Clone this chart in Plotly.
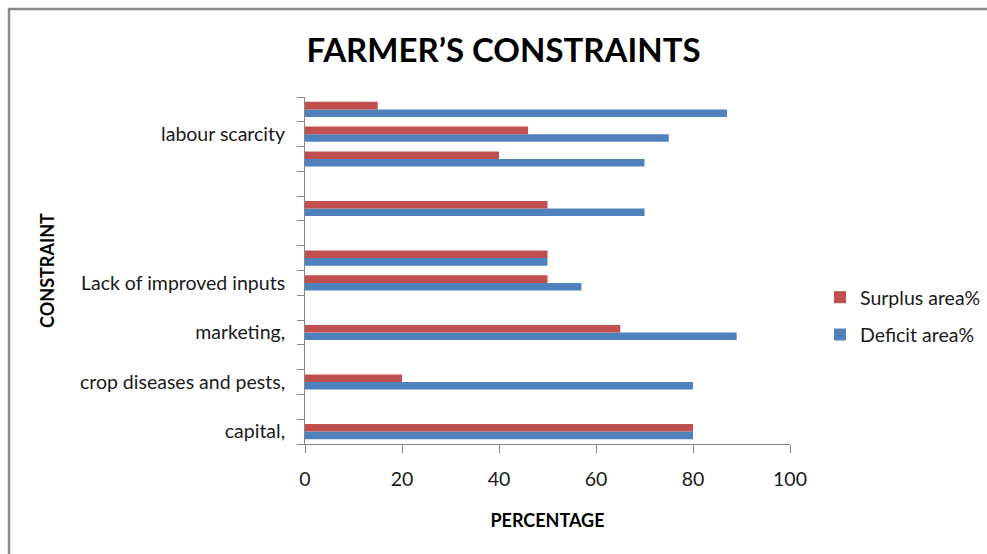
import plotly.graph_objects as go

# Constraint categories, bottom to top (blank rows keep their slot on the axis)
constraints = [
    "capital,", "", "crop diseases and pests,", "", "marketing,", "",
    "Lack of improved inputs", "", "", "", "", "", "labour scarcity", "",
]
surplus_pct = [80, None, 20, None, 65, None, 50, 50, None, 50, None, 40, 46, 15]
deficit_pct = [80, None, 80, None, 89, None, 57, 50, None, 70, None, 70, 75, 87]
x_ticks = [0, 20, 40, 60, 80, 100]

# unique category keys so that blank labels still get their own row
keys = [f"row{i}" for i in range(len(constraints))]

FONT = "Lato, 'Open Sans', sans-serif"
RED = "#C0504D"
BLUE = "#4F81BD"
AXIS = "#868686"
TXT = "#1a1a1a"

fig = go.Figure()
fig.add_trace(go.Bar(
    y=keys, x=deficit_pct, orientation="h", name="Deficit area%",
    marker=dict(color=BLUE, line=dict(width=0)),
    legendgroup="g2_deficit", legendrank=2,
))
fig.add_trace(go.Bar(
    y=keys, x=surplus_pct, orientation="h", name="Surplus area%",
    marker=dict(color=RED, line=dict(width=0)),
    legendgroup="g1_surplus", legendrank=1,
))

W, H = 987, 554
L, R, T, B = 305, 197, 97, 110

fig.update_layout(
    width=W, height=H,
    margin=dict(l=L, r=R, t=T, b=B, pad=0, autoexpand=False),
    paper_bgcolor="white", plot_bgcolor="white",
    barmode="group", bargap=0.39, bargroupgap=0,
    font=dict(family=FONT, color=TXT, size=19.5),
    title=dict(
        text="<b>FARMER’S CONSTRAINTS</b>",
        font=dict(family=FONT, size=33, color="black"),
        x=503.5 / W, xref="container", xanchor="center",
        y=1 - 50 / H, yref="container", yanchor="middle",
    ),
    xaxis=dict(
        range=[0, 100], tickmode="array", tickvals=x_ticks,
        ticks="outside", ticklen=8, tickcolor=AXIS, tickwidth=1,
        showline=True, linecolor=AXIS, linewidth=1,
        showgrid=False, zeroline=False,
        tickfont=dict(size=19.5, color=TXT),
        ticklabelstandoff=10,
        title=dict(text="<b>PERCENTAGE</b>", font=dict(size=18, color="black"),
                   standoff=24),
    ),
    yaxis=dict(
        type="category", categoryorder="array", categoryarray=keys,
        tickmode="array", tickvals=keys, ticktext=constraints,
        tickson="boundaries", ticks="outside", ticklen=7,
        tickcolor=AXIS, tickwidth=1,
        showline=True, linecolor=AXIS, linewidth=1,
        showgrid=False, zeroline=False,
        tickfont=dict(size=19.5, color=TXT),
        ticklabelstandoff=15,
        title=dict(text="<b>CONSTRAINT</b>", font=dict(size=18, color="black"),
                   standoff=20),
    ),
    legend=dict(
        x=(820 - L) / (W - L - R), xanchor="left",
        y=(H - B - 278) / (H - T - B), yanchor="top",
        traceorder="grouped", tracegroupgap=9,
        font=dict(size=19.5, color=TXT),
        bgcolor="rgba(0,0,0,0)",
    ),
    showlegend=True,
)

# chart frame along the left and top edges
pw, ph = W - L - R, H - T - B
fig.add_shape(
    type="path", xref="paper", yref="paper",
    path=(f"M {(9 - L) / pw},{(H - B - 600) / ph} "
          f"L {(9 - L) / pw},{(H - B - 9) / ph} "
          f"L {(1100 - L) / pw},{(H - B - 9) / ph}"),
    line=dict(color="#8a8a8a", width=2.5),
)

fig.write_html("out.html")
